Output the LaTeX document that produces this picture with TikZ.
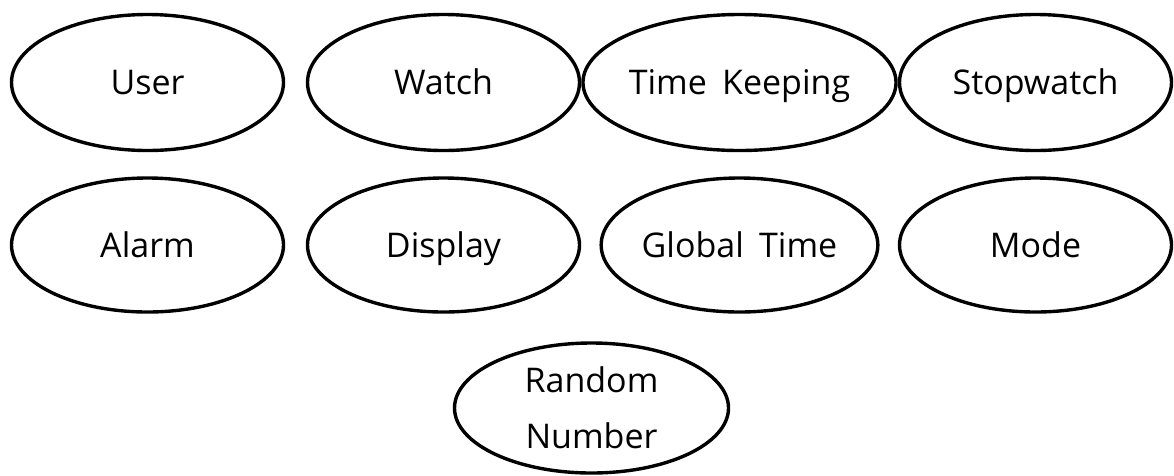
\documentclass[tikz,border=0pt]{standalone}
\usepackage{fontspec}
\setmainfont{Open Sans}
\usetikzlibrary{shapes.geometric}
\begin{document}
\begin{tikzpicture}[x=1pt,y=-1pt,
  cls/.style={draw=black, line width=3.4pt, ellipse, minimum width=272pt, minimum height=136pt, inner sep=0pt,
    font=\fontsize{34}{56}\selectfont, text height=24.5pt, text depth=0pt},
  rowtwo/.style={minimum height=134pt},
  txt/.style={font=\fontsize{34}{56}\selectfont, align=center, inner sep=0pt}]
\useasboundingbox (0,0) rectangle (1174,475);
\node[cls] (user) at (147.5,82.5) {User};
\node[cls] (watch) at (443.5,82.5) {Watch};
\node[cls] (tk) at (739.5,82.5) {Time\hspace{0.45em}Keeping};
\node[cls] (sw) at (1035.5,82.5) {Stopwatch};
\node[cls,rowtwo] (alarm) at (147.5,245) {Alarm};
\node[cls,rowtwo] (display) at (443.5,245) {Display};
\node[cls,rowtwo] (gt) at (739.5,245) {Global\hspace{0.45em}Time};
\node[cls,rowtwo] (mode) at (1035.5,245) {Mode};
\node[cls, minimum width=274pt, minimum height=130pt] (rn) at (591.5,408) {};
\node[txt] (rntext) at (rn.center) {Random\\Number};
\end{tikzpicture}
\end{document}
